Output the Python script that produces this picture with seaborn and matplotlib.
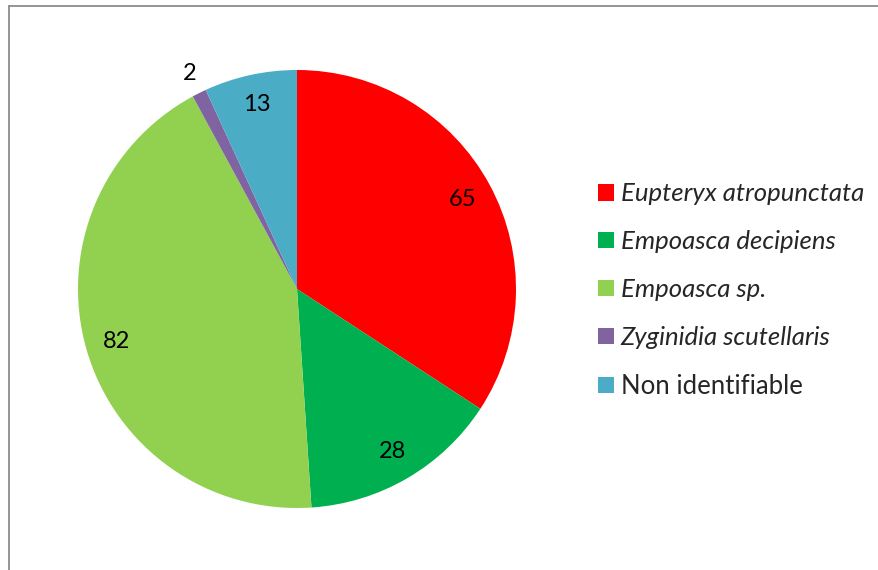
import matplotlib
matplotlib.use("Agg")
import matplotlib.pyplot as plt
from matplotlib.lines import Line2D
import numpy as np
import seaborn as sns

# Leafhopper species counts
species = ["Eupteryx atropunctata", "Empoasca decipiens", "Empoasca sp.",
           "Zyginidia scutellaris", "Non identifiable"]
counts = [65, 28, 82, 2, 13]
italic = [True, True, True, True, False]
colors = ["#FF0000", "#00B050", "#92D050", "#8064A2", "#4BACC6"]

sns.set_theme(style="white")
plt.rcParams["font.family"] = ["Lato", "DejaVu Sans"]

W, H = 879, 570
fig = plt.figure(figsize=(W / 100, H / 100), dpi=100)
fig.patch.set_facecolor("white")

# Pie area: centre and radius in pixels
cx, cy, R = 297, 289, 219
ax = fig.add_axes([(cx - R) / W, (H - cy - R) / H, 2 * R / W, 2 * R / H])

wedges, _ = ax.pie(counts, colors=colors, startangle=90, counterclock=False,
                   radius=1, wedgeprops=dict(linewidth=0))
ax.set_xlim(-1, 1)
ax.set_ylim(-1, 1)
ax.set_aspect("equal")
ax.axis("off")

total = sum(counts)
for w, v in zip(wedges, counts):
    mid = np.deg2rad((w.theta1 + w.theta2) / 2)
    r = 1.1 if v / total < 0.02 else 0.86
    ax.text(r * np.cos(mid), r * np.sin(mid), str(v), ha="center", va="center",
            fontsize=17, color="black", clip_on=False)

leg = fig.legend(wedges, species, loc="upper left",
                 bbox_to_anchor=(588 / W, 1 - 172 / H), frameon=False,
                 fontsize=18.5, handlelength=0.62, handleheight=0.62,
                 handletextpad=0.25, labelspacing=0.97, borderaxespad=0)
for t, it in zip(leg.get_texts(), italic):
    if it:
        t.set_style("italic")

# Chart-area frame (top and left edges visible)
fig.add_artist(Line2D([9 / W, 1], [1 - 5.5 / H, 1 - 5.5 / H],
                      transform=fig.transFigure, color="#8c8c8c", lw=1.3))
fig.add_artist(Line2D([9 / W, 9 / W], [0, 1 - 5.5 / H],
                      transform=fig.transFigure, color="#8c8c8c", lw=1.3))

fig.savefig("out.png", dpi=100, facecolor="white")
